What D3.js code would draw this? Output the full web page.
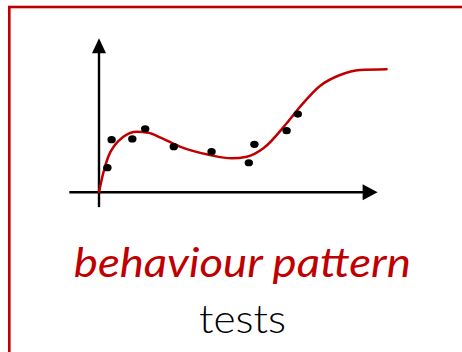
<!DOCTYPE html>
<html>
<head>
<meta charset="utf-8">
<script src="https://cdn.jsdelivr.net/npm/d3@7"></script>
<style>
  html, body { margin: 0; padding: 0; background: #fff; }
  svg { display: block; }
</style>
</head>
<body>
<svg id="chart" width="462" height="352"></svg>
<script>
// Observed measurements (scatter) and the fitted behaviour curve
const pointX = [0.30, 0.45, 1.19, 1.65, 2.67, 4.02, 5.35, 5.55, 6.70, 7.10];
const pointY = [1.76, 3.76, 3.81, 4.54, 3.26, 2.90, 2.11, 3.43, 4.40, 5.59];

const curveX = [0, 0.15, 0.33, 0.57, 0.87, 1.35, 1.76, 2.18, 2.89, 3.96, 4.74, 5.28, 5.87, 6.71, 7.18, 7.89, 8.61, 9.32, 10.27];
const curveY = [0, 1.36, 2.54, 3.38, 3.97, 4.33, 4.26, 3.93, 3.26, 2.66, 2.43, 2.54, 3.14, 4.95, 6.11, 7.60, 8.38, 8.74, 8.79];

// Axis extents in data units (axes run slightly past the origin)
const xAxisRange = [-1.06, 9.95];
const yAxisRange = [-1.06, 11.0];

const titleText = "behaviour pattern";
const subtitleText = "tests";

const RED = "#c00000";
const svg = d3.select("#chart");

// Frame
svg.append("rect")
  .attr("x", 9.3).attr("y", 7)
  .attr("width", 480).attr("height", 380)
  .attr("fill", "none")
  .attr("stroke", RED)
  .attr("stroke-width", 2.6);

const x = d3.scaleLinear().domain([0, 10]).range([99, 379]);
const y = d3.scaleLinear().domain([0, 10]).range([192.3, 52.3]);

const axisG = svg.append("g");

// x axis line + arrowhead
axisG.append("line")
  .attr("x1", x(xAxisRange[0])).attr("x2", x(xAxisRange[1]) - 10)
  .attr("y1", y(0)).attr("y2", y(0))
  .attr("stroke", "#000").attr("stroke-width", 2.4);
{
  const tip = x(xAxisRange[1]), cy = y(0);
  axisG.append("path")
    .attr("d", `M${tip},${cy} L${tip - 15},${cy - 8} L${tip - 15},${cy + 8} Z`)
    .attr("fill", "#000");
}

// y axis line + arrowhead
axisG.append("line")
  .attr("x1", x(0)).attr("x2", x(0))
  .attr("y1", y(yAxisRange[0])).attr("y2", y(yAxisRange[1]) + 10)
  .attr("stroke", "#000").attr("stroke-width", 2.4);
{
  const tip = y(yAxisRange[1]), cx = x(0);
  axisG.append("path")
    .attr("d", `M${cx},${tip} L${cx - 7},${tip + 15} L${cx + 7},${tip + 15} Z`)
    .attr("fill", "#000");
}

// Fitted curve
const line = d3.line()
  .x(d => x(d[0]))
  .y(d => y(d[1]))
  .curve(d3.curveMonotoneX);

svg.append("path")
  .datum(curveX.map((v, i) => [v, curveY[i]]))
  .attr("d", line)
  .attr("fill", "none")
  .attr("stroke", RED)
  .attr("stroke-width", 2.5)
  .attr("stroke-linecap", "round");

// Measurements
svg.append("g").selectAll("ellipse")
  .data(pointX.map((v, i) => [v, pointY[i]]))
  .join("ellipse")
  .attr("cx", d => x(d[0]))
  .attr("cy", d => y(d[1]))
  .attr("rx", 4.2)
  .attr("ry", 3.6)
  .attr("fill", "#000");

// Caption
svg.append("text")
  .attr("x", 242.3).attr("y", 276.7)
  .attr("text-anchor", "middle")
  .attr("font-family", "Lato, 'Open Sans', sans-serif")
  .attr("font-style", "italic")
  .attr("font-size", 40)
  .attr("fill", RED)
  .attr("textLength", 337)
  .attr("lengthAdjust", "spacingAndGlyphs")
  .text(titleText);

svg.append("text")
  .attr("x", 242.5).attr("y", 333.3)
  .attr("text-anchor", "middle")
  .attr("font-family", "Lato, 'Open Sans', sans-serif")
  .attr("font-weight", 300)
  .attr("font-size", 40)
  .attr("fill", "#000")
  .attr("textLength", 87)
  .attr("lengthAdjust", "spacingAndGlyphs")
  .text(subtitleText);
</script>
</body>
</html>
